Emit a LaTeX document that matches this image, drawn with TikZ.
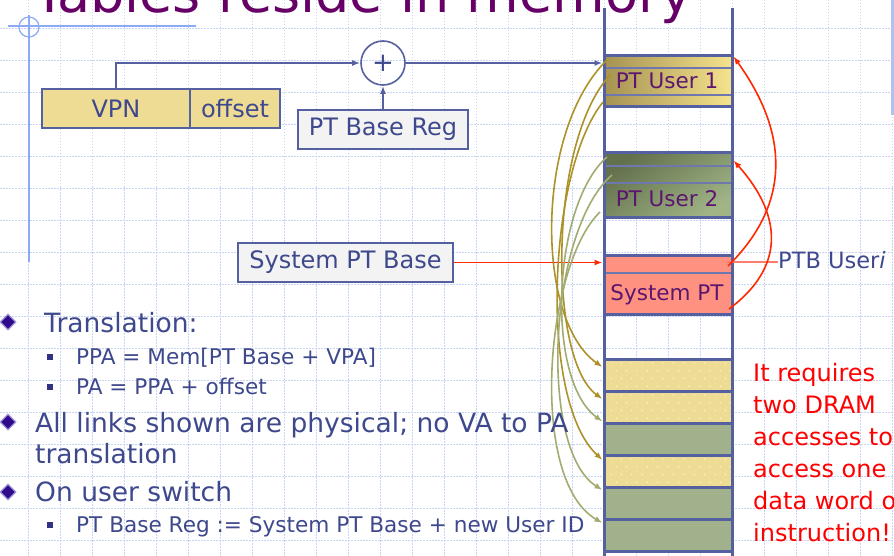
\documentclass[tikz,border=0pt]{standalone}
\usepackage{fontspec}
\setmainfont{DejaVu Sans}
\usetikzlibrary{arrows.meta,calc,shapes.geometric}

\definecolor{txtblue}{RGB}{62,72,140}
\definecolor{edgeblue}{RGB}{85,96,160}
\definecolor{khaki}{RGB}{238,220,148}
\definecolor{khakidark}{RGB}{166,146,82}
\definecolor{khakilight}{RGB}{245,227,140}
\definecolor{olivedark}{RGB}{98,112,76}
\definecolor{olivelight}{RGB}{160,180,134}
\definecolor{cellgreen}{RGB}{161,177,140}
\definecolor{salmon}{RGB}{255,145,128}
\definecolor{plum}{RGB}{92,22,112}
\definecolor{titleplum}{RGB}{102,0,102}
\definecolor{linkgold}{RGB}{172,146,40}
\definecolor{linkolive}{RGB}{162,172,112}
\definecolor{linkred}{RGB}{255,40,0}
\definecolor{ptbline}{RGB}{255,125,110}
\definecolor{gridblue}{RGB}{200,212,245}
\definecolor{guideblue}{RGB}{140,170,245}
\definecolor{regfill}{RGB}{243,243,243}
\definecolor{bulletindigo}{RGB}{48,12,140}
\definecolor{bulletedge}{RGB}{160,150,215}
\definecolor{squareblue}{RGB}{50,50,130}

\begin{document}
\begin{tikzpicture}[x=1pt,y=-1pt,
  gridline/.style={draw=gridblue,line width=0.9pt,dash pattern=on 1.5pt off 1.5pt},
  guide/.style={draw=guideblue,line width=1.2pt},
  field/.style={draw=edgeblue,line width=2.6pt,fill=khaki,minimum height=39pt,
    inner sep=0pt,text=txtblue,font=\fontsize{24}{28}\selectfont},
  regbox/.style={draw=edgeblue,line width=2.6pt,fill=regfill,minimum height=39pt,
    inner sep=0pt,text=txtblue,font=\fontsize{24}{28}\selectfont},
  memcell/.style={draw=edgeblue,line width=3pt,minimum width=128pt,inner sep=0pt},
  colline/.style={draw=edgeblue,line width=3pt},
  rowline/.style={draw=edgeblue!85,line width=1.2pt},
  celltext/.style={text=plum,font=\fontsize{21.5}{26}\selectfont,inner sep=0pt},
  bluearrow/.style={draw=edgeblue,line width=1.6pt,-{Latex[length=8pt,width=6pt]}},
  redarrow/.style={draw=linkred,line width=1.6pt,-{Latex[length=8pt,width=6pt]}},
  goldlink/.style={draw=linkgold,line width=1.6pt,-{Latex[length=8pt,width=6pt]}},
  olivelink/.style={draw=linkolive,line width=1.6pt,-{Latex[length=8pt,width=6pt]}},
  bigtext/.style={text=txtblue,font=\fontsize{26.5}{30}\selectfont,inner sep=0pt},
  smalltext/.style={text=txtblue,font=\fontsize{21.6}{26}\selectfont,inner sep=0pt},
  notetext/.style={text=red,font=\fontsize{24}{30}\selectfont,inner sep=0pt},
  diamondbullet/.style={diamond,fill=bulletindigo,draw=bulletedge,line width=1.2pt,
    minimum size=16pt,inner sep=0pt},
  squarebullet/.style={rectangle,fill=squareblue,minimum size=6pt,inner sep=0pt}
]
\useasboundingbox (0,0) rectangle (894,556);
\clip (0,0) rectangle (894,556);
\fill[white] (0,0) rectangle (894,556);

% background grid
\foreach \gy in {28,60,...,540} \draw[gridline] (0,\gy) -- (894,\gy);
\foreach \gx in {28,60,...,892} \draw[gridline] (\gx,0) -- (\gx,556);

% crosshair guide and edge bar
\draw[guide] (29,27) circle (10pt);
\draw[guide] (8,26) -- (196,26);
\draw[guide] (29,15) -- (29,262);
\draw[draw={rgb,255:red,175;green,195;blue,240},line width=3pt] (892,0) -- (892,115);

% title
\node[anchor=base west,text=titleplum,font=\fontsize{54}{60}\selectfont,inner sep=0pt]
  (title) at (33,13) {Tables reside in memory};

% virtual address
\node[field,minimum width=148pt] (vpn) at (116,108.5) {VPN};
\node[field,minimum width=90pt] (offset) at (235,108.5) {offset};

% adder and registers
\node[circle,draw=edgeblue,line width=1.6pt,minimum size=44pt,inner sep=0pt,
  text=txtblue,font=\fontsize{26}{28}\selectfont] (plus) at (383,63) {+};
\node[regbox,minimum width=170pt] (ptbase) at (383,129.5) {PT Base Reg};
\node[regbox,minimum width=215pt] (sysbase) at (345.5,262.5) {System PT Base};

% memory column
\coordinate (colL) at (604,8);
\coordinate (colR) at (732,8);
\draw[colline] (colL) -- (colL |- 0,560);
\draw[colline] (colR) -- (colR |- 0,560);

% page tables
\node[memcell,minimum height=51pt,left color=khakidark,right color=khakilight] (pt1) at (668,81.5) {};
\draw[rowline] (pt1.west |- 0,68) -- (pt1.east |- 0,68);
\draw[rowline] (pt1.west |- 0,95) -- (pt1.east |- 0,95);
\node[memcell,minimum height=51pt] at (pt1) {};
\node[celltext] (pt1txt) at (667,81) {PT User 1};

\node[memcell,minimum height=65pt,top color=olivedark,bottom color=olivelight,shading angle=35] (pt2) at (668,185.5) {};
\draw[rowline] (pt2.west |- 0,166) -- (pt2.east |- 0,166);
\draw[rowline] (pt2.west |- 0,183) -- (pt2.east |- 0,183);
\node[memcell,minimum height=65pt] at (pt2) {};
\node[celltext] (pt2txt) at (667,199) {PT User 2};

\node[memcell,minimum height=59pt,fill=salmon] (syspt) at (668,284.5) {};
\draw[rowline] (syspt.west |- 0,273) -- (syspt.east |- 0,273);
\node[memcell,minimum height=59pt] at (syspt) {};
\node[celltext] (sysptxt) at (667,295) {System PT};

% data pages
\foreach \nm/\cy/\kind in {m1/375/y,m2/407/y,m3/439/g,m4/471/y,m5/503/g,m6/535/g}{
  \if y\kind
    \fill[khaki] (604,\cy-16) rectangle (732,\cy+16);
    \foreach \i in {0,...,11}{
      \foreach \j in {0,1,2,3}{
        \fill[white,opacity=0.85] ({611+10.4*\i+5.2*mod(\j,2)},{\cy-12+7.8*\j}) circle (0.7pt);
      }
    }
  \else
    \fill[cellgreen] (604,\cy-16) rectangle (732,\cy+16);
  \fi
  \node[memcell,minimum height=32pt] (\nm) at (668,\cy) {};
}

% address path
\draw[bluearrow] (vpn.north) |- (plus.west);
\draw[bluearrow] (ptbase.north) -- (plus.south);
\draw[bluearrow] (plus.east) -- (plus.east -| pt1.west);
\draw[redarrow] (sysbase.east) -- (sysbase.east -| syspt.west);

% page-table entries pointing to data pages
\coordinate (k1s) at (607,60);
\coordinate (k2s) at (611,74);
\coordinate (k3s) at (603,102);
\coordinate (o1s) at (607,157);
\coordinate (o2s) at (612,175);
\coordinate (o3s) at (600,212);
\draw[goldlink] (k1s) .. controls (535,130) and (535,320) .. ([yshift=8pt]m1.west);
\draw[goldlink] (k2s) .. controls (548,140) and (548,360) .. ([yshift=8pt]m2.west);
\draw[goldlink] (k3s) .. controls (548,170) and (538,400) .. ([yshift=11pt]m4.west);
\draw[olivelink] (o1s) .. controls (552,205) and (545,380) .. (m3.north west);
\draw[olivelink] (o2s) .. controls (548,230) and (538,450) .. ([yshift=13pt]m5.west);
\draw[olivelink] (o3s) .. controls (545,265) and (528,480) .. ([yshift=12pt]m6.west);

% system page table entries pointing to user page tables
\coordinate (r1s) at (728,266);
\coordinate (r2s) at (729,309);
\coordinate (ptbs) at (727,262);
\node[anchor=base west,text=txtblue,font=\fontsize{22.5}{26}\selectfont,inner sep=0pt]
  (ptbi) at (778,269) {PTB User\textit{i}};
\draw[draw=ptbline,line width=1.3pt] (ptbs) -- (ptbs -| ptbi.west);
\draw[redarrow] (r1s) .. controls (790,205) and (790,135) .. ([yshift=-2pt]pt1.north east);
\draw[redarrow] (r2s) .. controls (792,262) and (776,208) .. ([yshift=-9pt]pt2.north east);

% bullet list
\node[diamondbullet] (d1) at (8,322) {};
\node[diamondbullet] (d2) at (8,422) {};
\node[diamondbullet] (d3) at (8,492) {};
\node[squarebullet] (s1) at (50,357) {};
\node[squarebullet] (s2) at (50,387) {};
\node[squarebullet] (s3) at (50,525) {};
\node[bigtext,anchor=base west] (t1) at (44,332) {Translation:};
\node[smalltext,anchor=base west] (t2) at (76,364) {PPA = Mem[PT Base + VPA]};
\node[smalltext,anchor=base west] (t3) at (76,394) {PA = PPA + offset};
\node[bigtext,anchor=base west] (t4) at (35,432) {All links shown are physical; no VA to PA};
\node[bigtext,anchor=base west] (t5) at (35,463) {translation};
\node[bigtext,anchor=base west] (t6) at (35,501) {On user switch};
\node[smalltext,anchor=base west] (t7) at (76,532) {PT Base Reg := System PT Base + new User ID};

% remark
\node[notetext,anchor=base west] (n1) at (753,381) {It requires};
\node[notetext,anchor=base west] (n2) at (753,413) {two DRAM};
\node[notetext,anchor=base west] (n3) at (753,445) {accesses to};
\node[notetext,anchor=base west] (n4) at (753,477) {access one};
\node[notetext,anchor=base west] (n5) at (753,509) {data word or};
\node[notetext,anchor=base west] (n6) at (753,541) {instruction!};
\end{tikzpicture}
\end{document}
